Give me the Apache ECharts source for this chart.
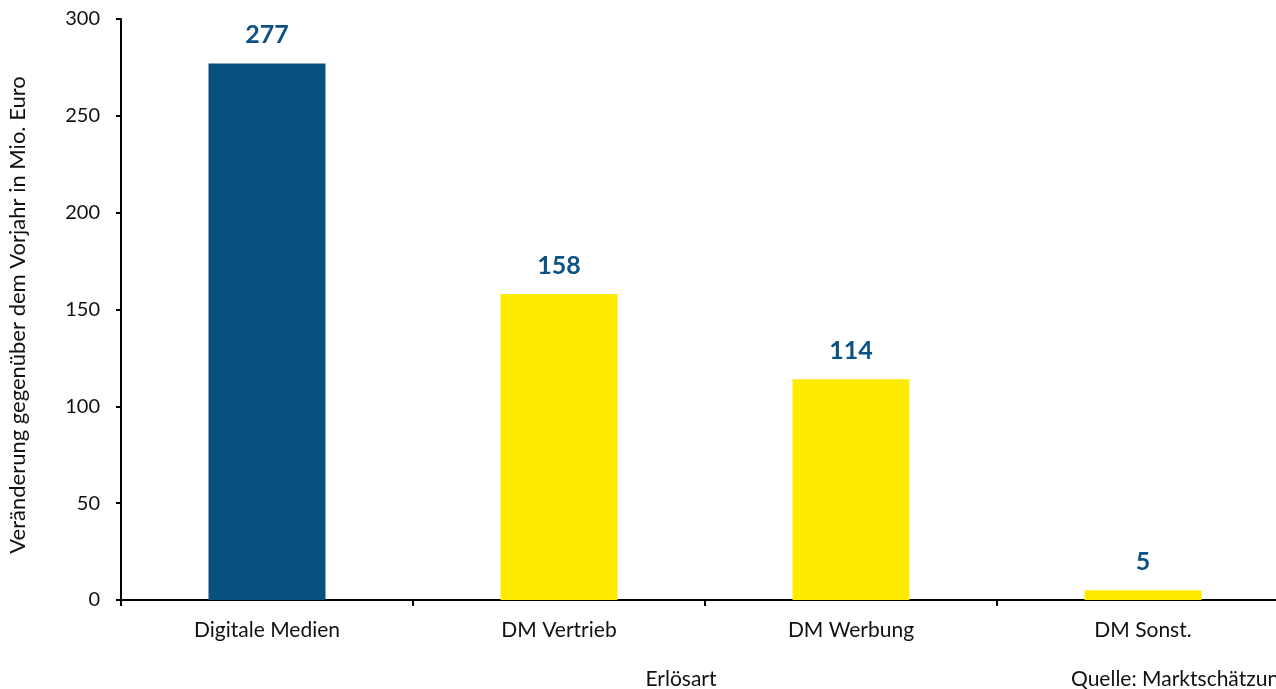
<!DOCTYPE html>
<html><head><meta charset="utf-8">
<script src="https://cdn.jsdelivr.net/npm/echarts@6/dist/echarts.min.js"></script>
<style>html,body{margin:0;padding:0;background:#fff}#c{width:1276px;height:689px}</style>
</head><body><div id="c"></div>
<script>
const categories = ["Digitale Medien", "DM Vertrieb", "DM Werbung", "DM Sonst."];
const values = [277, 158, 114, 5];
const barColors = ["#08507E", "#FFEB00", "#FFEB00", "#FFEB00"];
const yTicks = [0, 50, 100, 150, 200, 250, 300];
const yAxisTitle = 'Veränderung gegenüber dem Vorjahr in Mio. Euro';
const xAxisTitle = 'Erlösart';
const sourceNote = 'Quelle: Marktschätzung';
const FONT = "Lato";
const chart = echarts.init(document.getElementById('c'));
chart.setOption({
  animation: false,
  textStyle: { fontFamily: FONT },
  grid: { left: 121, top: 19, right: -13, bottom: 89, containLabel: false, outerBoundsMode: 'none' },
  xAxis: {
    type: 'category', data: categories,
    axisLine: { lineStyle: { color: '#000', width: 2 } },
    axisTick: { show: true, length: 6, lineStyle: { color: '#000', width: 2 } },
    axisLabel: { color: '#111', fontSize: 21, margin: 20, fontFamily: FONT }
  },
  yAxis: {
    type: 'value', min: yTicks[0], max: yTicks[yTicks.length - 1], interval: 50,
    axisLine: { show: true, lineStyle: { color: '#000', width: 2 } },
    axisTick: { show: true, length: 5, lineStyle: { color: '#000', width: 2 } },
    splitLine: { show: false },
    axisLabel: { color: '#111', fontSize: 20, margin: 21, fontFamily: FONT }
  },
  series: [{
    type: 'bar', barWidth: 117,
    data: values.map((v, i) => ({ value: v, itemStyle: { color: barColors[i] } })),
    label: { show: true, position: 'top', distance: 16, color: '#0B5384', fontSize: 25, fontWeight: 'bold', fontFamily: FONT }
  }],
  graphic: [
    { type: 'text', x: 18, y: 315, rotation: Math.PI / 2, style: { text: yAxisTitle, fontSize: 22, fill: '#111', fontFamily: FONT, align: 'center', verticalAlign: 'middle' } },
    { type: 'text', x: 681, y: 679, style: { text: xAxisTitle, fontSize: 21, fill: '#111', fontFamily: FONT, align: 'center', verticalAlign: 'middle' } },
    { type: 'text', x: 1071, y: 679, style: { text: sourceNote, fontSize: 21, fill: '#111', fontFamily: FONT, align: 'left', verticalAlign: 'middle' } }
  ]
});
</script></body></html>
